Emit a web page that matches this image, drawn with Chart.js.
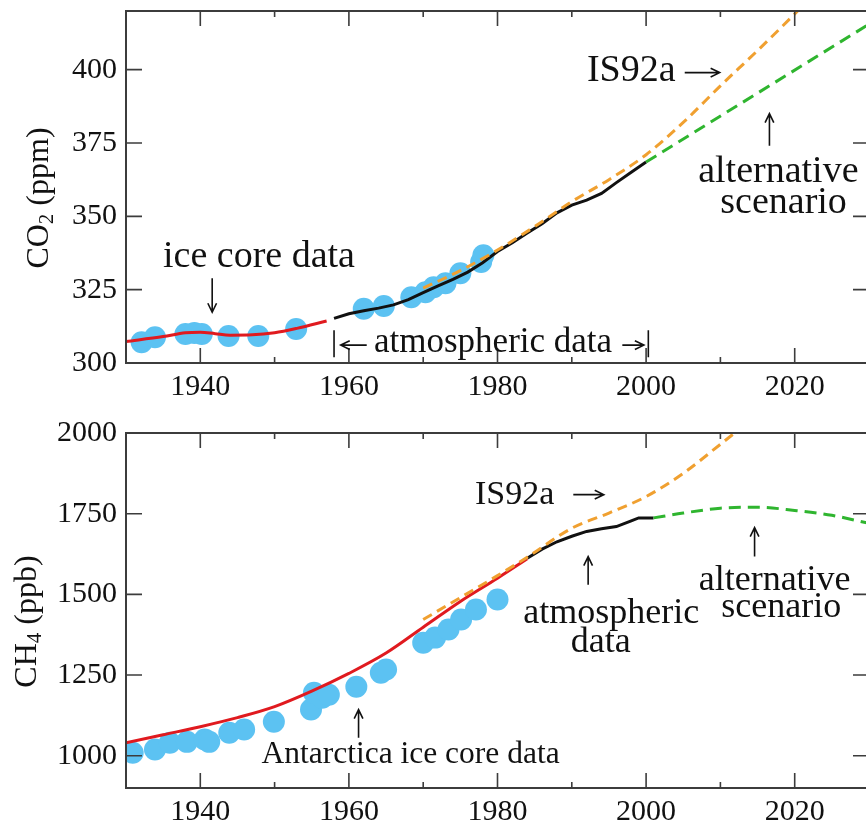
<!DOCTYPE html>
<html>
<head>
<meta charset="utf-8">
<script src="https://cdn.jsdelivr.net/npm/chart.js@4"></script>
<style>
  html, body { margin: 0; padding: 0; background: #fff; overflow: hidden; width: 866px; height: 820px; }
  .panel { width: 880px; height: 410px; }
  canvas { display: block; }
</style>
</head>
<body>
<div class="panel"><canvas id="co2Chart" width="880" height="410"></canvas></div>
<div class="panel"><canvas id="ch4Chart" width="880" height="410"></canvas></div>
<script>
// axis ticks
const xMajorTicks = [1940, 1960, 1980, 2000, 2020];
const xMinorTicks = [1950, 1970, 1990, 2010];
const co2Ticks = [300, 325, 350, 375, 400];
const ch4Ticks = [1000, 1250, 1500, 1750, 2000];

// CO2 panel
const co2IceYears  = [1932.1, 1933.9, 1938.0, 1939.2, 1940.2, 1943.8, 1947.8, 1952.9, 1962.0, 1964.7, 1968.4, 1970.3, 1971.4, 1973.0, 1975.0, 1977.8, 1978.1];
const co2IceValues = [307.1, 308.8, 309.9, 310.2, 309.9, 309.2, 309.2, 311.6, 318.5, 319.4, 322.4, 324.1, 325.8, 327.2, 330.6, 334.4, 336.7];
const co2FitYears  = [1930, 1935, 1938, 1940, 1942, 1944, 1947, 1950, 1953, 1957];
const co2FitValues = [307.3, 309.0, 310.3, 310.5, 310.0, 309.5, 309.6, 310.3, 311.8, 314.3];
const co2AtmYears  = [1958, 1960, 1962, 1964, 1966, 1968, 1970, 1972, 1974, 1976, 1978, 1980, 1982, 1984, 1986, 1988, 1990, 1992, 1994, 1996, 1998, 2000];
const co2AtmValues = [315.2, 316.8, 317.8, 318.7, 319.8, 321.6, 324.0, 326.3, 328.5, 331.0, 334.2, 338.0, 341.0, 344.3, 347.5, 351.2, 353.8, 355.5, 357.8, 361.5, 365.0, 368.5];
const co2Is92aYears  = [1970, 1975, 1980, 1985, 1990, 1995, 2000, 2005, 2010, 2015, 2020, 2025];
const co2Is92aValues = [325.5, 331.5, 338.5, 346.5, 355.0, 362.5, 371.0, 382.0, 394.5, 406.5, 419.0, 432.0];
const co2AltYears  = [2000, 2030];
const co2AltValues = [368.5, 415.5];

// CH4 panel
const ch4IceYears  = [1930.9, 1933.9, 1935.9, 1938.2, 1940.6, 1941.2, 1943.9, 1945.9, 1949.9, 1954.9, 1955.3, 1956.4, 1957.3, 1961.0, 1964.3, 1965.0, 1970.0, 1971.6, 1973.4, 1975.1, 1977.1, 1980.0];
const ch4IceValues = [1009, 1019, 1040, 1043, 1050, 1043, 1071, 1081, 1105, 1143, 1195, 1180, 1189, 1214, 1257, 1267, 1350, 1366, 1391, 1422, 1453, 1484];
const ch4FitYears  = [1930, 1935, 1940, 1945, 1950, 1955, 1960, 1965, 1970, 1975, 1980, 1984];
const ch4FitValues = [1040, 1065, 1090, 1118, 1152, 1200, 1255, 1318, 1398, 1478, 1550, 1610];
const ch4AtmYears  = [1984, 1986, 1988, 1990, 1992, 1994, 1996, 1998, 1999, 2001];
const ch4AtmValues = [1612, 1640, 1663, 1680, 1695, 1703, 1710, 1728, 1737, 1737];
const ch4Is92aYears  = [1970, 1975, 1980, 1984, 1990, 1995, 2000, 2005, 2010, 2013];
const ch4Is92aValues = [1422, 1490, 1558, 1615, 1705, 1752, 1803, 1875, 1965, 2020];
const ch4AltYears  = [2001, 2005, 2010, 2015, 2020, 2025, 2030];
const ch4AltValues = [1737, 1752, 1767, 1770, 1760, 1745, 1720];

const BLUE = '#5cc2f2', RED = '#e01a1f', ORANGE = '#f0a030', GREEN = '#2fb52f', INK = '#111';
const SERIF = '"Liberation Serif", "Times New Roman", serif';

function pts(xs, ys) { return xs.map((v, i) => ({ x: v, y: ys[i] })); }

function drawArrow(ctx, x1, y1, x2, y2) {
  const ang = Math.atan2(y2 - y1, x2 - x1), h = 10, s = 0.45;
  ctx.beginPath();
  ctx.moveTo(x1, y1); ctx.lineTo(x2, y2);
  ctx.moveTo(x2 - h * Math.cos(ang - s), y2 - h * Math.sin(ang - s));
  ctx.lineTo(x2, y2);
  ctx.lineTo(x2 - h * Math.cos(ang + s), y2 - h * Math.sin(ang + s));
  ctx.stroke();
}

function decor(spec) {
  return {
    id: 'decor',
    afterDraw(chart) {
      const { ctx, chartArea: a, scales: { x, y } } = chart;
      ctx.save();
      // frame and inward ticks
      ctx.strokeStyle = '#3c3c3c';
      ctx.lineWidth = 2;
      ctx.strokeRect(a.left, a.top, a.right - a.left, a.bottom - a.top);
      ctx.lineWidth = 1.6;
      ctx.beginPath();
      xMajorTicks.forEach(v => {
        const p = x.getPixelForValue(v);
        ctx.moveTo(p, a.bottom); ctx.lineTo(p, a.bottom - 15);
        ctx.moveTo(p, a.top); ctx.lineTo(p, a.top + 15);
      });
      xMinorTicks.forEach(v => {
        const p = x.getPixelForValue(v);
        ctx.moveTo(p, a.bottom); ctx.lineTo(p, a.bottom - 6);
        ctx.moveTo(p, a.top); ctx.lineTo(p, a.top + 6);
      });
      spec.yTicks.forEach(v => {
        const p = y.getPixelForValue(v);
        ctx.moveTo(a.left, p); ctx.lineTo(a.left + 16, p);
        ctx.moveTo(a.right, p); ctx.lineTo(a.right - 16, p);
      });
      ctx.stroke();

      // axis title with subscript
      ctx.fillStyle = INK;
      ctx.save();
      ctx.translate(spec.titleX, (a.top + a.bottom) / 2 + spec.titleDy);
      ctx.rotate(-Math.PI / 2);
      ctx.textBaseline = 'middle';
      ctx.textAlign = 'left';
      const big = '32px ' + SERIF, small = '21px ' + SERIF;
      ctx.font = big;
      const w1 = ctx.measureText(spec.title[0]).width;
      const w3 = ctx.measureText(spec.title[2]).width;
      ctx.font = small;
      const w2 = ctx.measureText(spec.title[1]).width;
      let cx = -(w1 + w2 + w3) / 2;
      ctx.font = big; ctx.fillText(spec.title[0], cx, 0); cx += w1;
      ctx.font = small; ctx.fillText(spec.title[1], cx, 7); cx += w2;
      ctx.font = big; ctx.fillText(spec.title[2], cx, 0);
      ctx.restore();

      // annotation text
      ctx.textAlign = 'center';
      ctx.textBaseline = 'alphabetic';
      spec.labels.forEach(l => {
        ctx.font = (l.size || 36) + 'px ' + SERIF;
        ctx.fillText(l.text, x.getPixelForValue(l.x), y.getPixelForValue(l.y));
      });
      ctx.strokeStyle = INK;
      ctx.lineWidth = 1.6;
      spec.arrows.forEach(r => drawArrow(ctx,
        x.getPixelForValue(r[0]), y.getPixelForValue(r[1]),
        x.getPixelForValue(r[2]), y.getPixelForValue(r[3])));
      ctx.beginPath();
      (spec.bars || []).forEach(b => {
        const p = x.getPixelForValue(b[0]);
        ctx.moveTo(p, y.getPixelForValue(b[1])); ctx.lineTo(p, y.getPixelForValue(b[2]));
      });
      ctx.stroke();
      ctx.restore();
    }
  };
}

function makeChart(id, d, yMin, yMax, yTicks, padTop, xHeight, spec) {
  return new Chart(document.getElementById(id), {
    type: 'line',
    data: {
      datasets: [
        { data: pts(d.altX, d.altY), borderColor: GREEN, borderWidth: 3, borderDash: [12, 7], cubicInterpolationMode: 'monotone', pointRadius: 0 },
        { data: pts(d.isX, d.isY), borderColor: ORANGE, borderWidth: 3, borderDash: [10, 6], cubicInterpolationMode: 'monotone', pointRadius: 0 },
        { data: pts(d.atmX, d.atmY), borderColor: INK, borderWidth: 3, tension: 0, pointRadius: 0 },
        { data: pts(d.fitX, d.fitY), borderColor: RED, borderWidth: 3, cubicInterpolationMode: 'monotone', pointRadius: 0 },
        { data: pts(d.iceX, d.iceY), showLine: false, pointRadius: 11, pointBorderWidth: 0, pointBackgroundColor: BLUE, borderColor: BLUE }
      ]
    },
    options: {
      responsive: false,
      animation: false,
      layout: { padding: { top: padTop, right: 9, left: 0, bottom: 0 } },
      plugins: { legend: { display: false }, tooltip: { enabled: false } },
      scales: {
        x: {
          type: 'linear', min: 1930, max: 2030,
          grid: { display: false, drawTicks: false }, border: { display: false },
          afterBuildTicks: s => { s.ticks = xMajorTicks.map(v => ({ value: v })); },
          afterFit: s => { s.height = xHeight; s.paddingLeft = 0; s.paddingRight = 0; },
          ticks: { autoSkip: false, maxRotation: 0, padding: 6, color: INK, font: { family: SERIF, size: 30 }, callback: v => String(v) }
        },
        y: {
          min: yMin, max: yMax,
          grid: { display: false, drawTicks: false }, border: { display: false },
          afterBuildTicks: s => { s.ticks = yTicks.map(v => ({ value: v })); },
          afterFit: s => { s.width = 126; s.paddingTop = 0; s.paddingBottom = 0; },
          ticks: { padding: 9, color: INK, font: { family: SERIF, size: 30 }, callback: v => String(v) }
        }
      }
    },
    plugins: [decor(spec)]
  });
}

makeChart('co2Chart', {
  iceX: co2IceYears, iceY: co2IceValues, fitX: co2FitYears, fitY: co2FitValues,
  atmX: co2AtmYears, atmY: co2AtmValues, isX: co2Is92aYears, isY: co2Is92aValues,
  altX: co2AltYears, altY: co2AltValues
}, 300, 420, co2Ticks, 10, 47, {
  yTicks: co2Ticks,
  title: ['CO', '2', ' (ppm)'], titleX: 40, titleDy: 11,
  labels: [
    { text: 'ice core data', x: 1947.9, y: 332.7, size: 38 },
    { text: 'IS92a', x: 1998.0, y: 396.3, size: 38 },
    { text: 'alternative', x: 2017.8, y: 361.6, size: 38 },
    { text: 'scenario', x: 2018.5, y: 351.0, size: 38 },
    { text: 'atmospheric data', x: 1979.4, y: 303.7, size: 35 }
  ],
  arrows: [
    [1941.6, 328.9, 1941.6, 317.3],
    [2005.2, 399.0, 2009.9, 399.0],
    [2016.6, 374.1, 2016.6, 385.0],
    [1962.4, 306.1, 1958.9, 306.1],
    [1996.8, 306.1, 1999.7, 306.1]
  ],
  bars: [[1958.0, 302.0, 311.2], [2000.3, 302.0, 311.2]]
});

makeChart('ch4Chart', {
  iceX: ch4IceYears, iceY: ch4IceValues, fitX: ch4FitYears, fitY: ch4FitValues,
  atmX: ch4AtmYears, atmY: ch4AtmValues, isX: ch4Is92aYears, isY: ch4Is92aValues,
  altX: ch4AltYears, altY: ch4AltValues
}, 900, 2000, ch4Ticks, 23, 32, {
  yTicks: ch4Ticks,
  title: ['CH', '4', ' (ppb)'], titleX: 28, titleDy: 11,
  labels: [
    { text: 'IS92a', x: 1982.3, y: 1781, size: 34 },
    { text: 'atmospheric', x: 1995.3, y: 1412 },
    { text: 'data', x: 1993.9, y: 1322 },
    { text: 'alternative', x: 2017.3, y: 1515 },
    { text: 'scenario', x: 2018.2, y: 1431 },
    { text: 'Antarctica ice core data', x: 1968.3, y: 978, size: 31.5 }
  ],
  arrows: [
    [1990.2, 1809, 1994.3, 1809],
    [1992.2, 1530, 1992.2, 1617],
    [2014.6, 1617, 2014.6, 1707],
    [1961.3, 1056, 1961.3, 1143]
  ]
});
</script>
</body>
</html>
